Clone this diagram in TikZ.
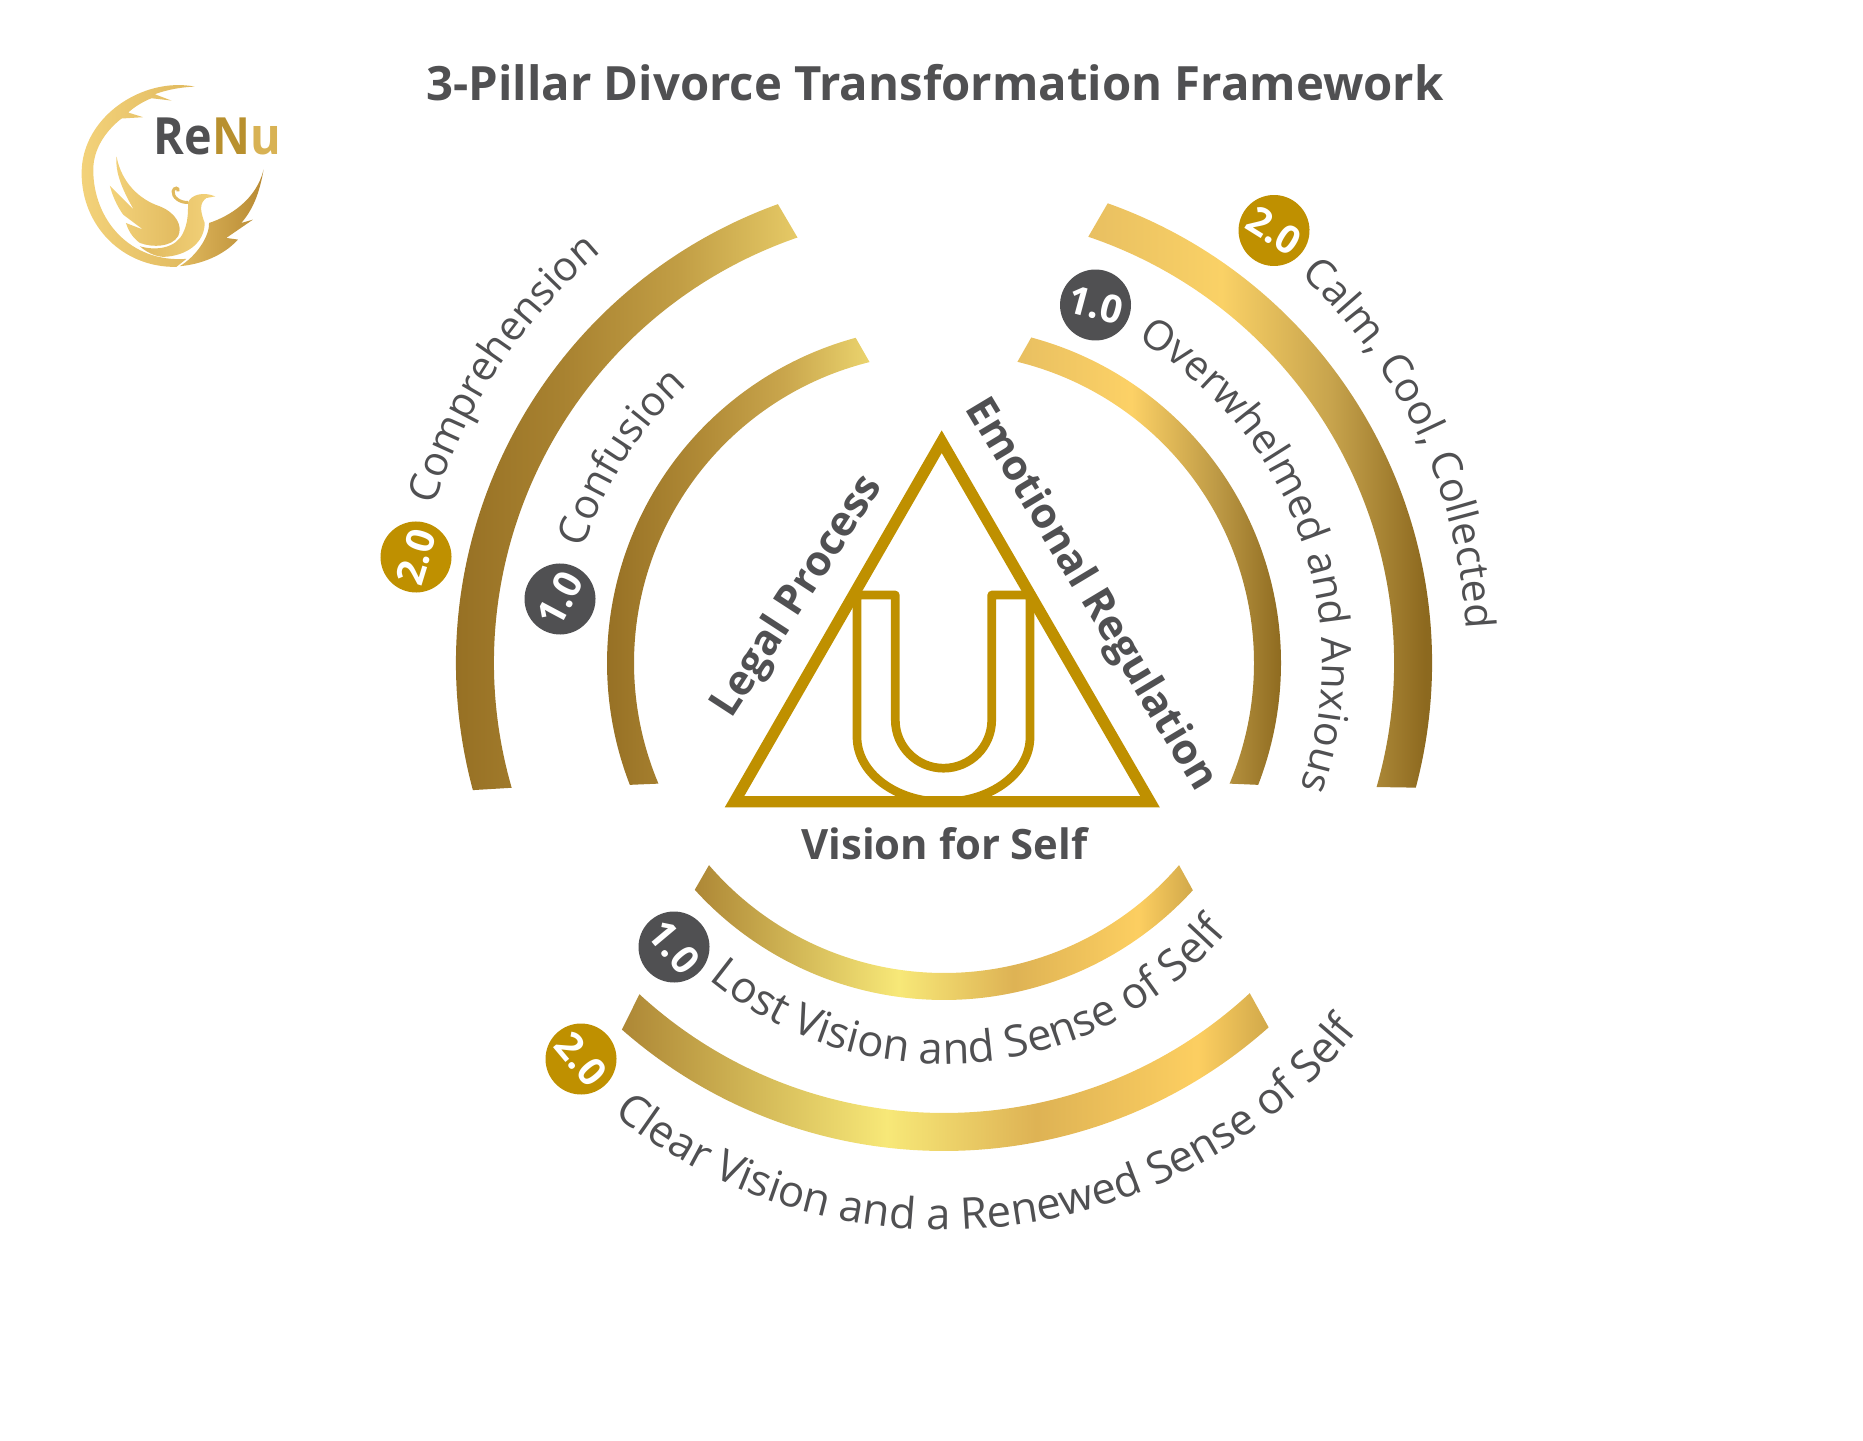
\documentclass[tikz,border=0pt]{standalone}
\usepackage{fontspec}
\setmainfont{Open Sans}
\usetikzlibrary{decorations.text}
\definecolor{inkgray}{HTML}{505052}
\definecolor{pillargold}{HTML}{BF9000}
\definecolor{logopale}{HTML}{F3D27A}
\definecolor{logomid}{HTML}{E0B95E}
\definecolor{logodeep}{HTML}{B88A34}
\pgfdeclarehorizontalshading{goldleftouter}{100bp}{rgb(0bp)=(.56,.41,.12); rgb(25bp)=(.56,.41,.12); rgb(45bp)=(.66,.51,.19); rgb(60bp)=(.76,.62,.27); rgb(75bp)=(.90,.79,.40); rgb(100bp)=(.90,.79,.40)}
\pgfdeclarehorizontalshading{goldleftinner}{100bp}{rgb(0bp)=(.57,.42,.13); rgb(25bp)=(.57,.42,.13); rgb(45bp)=(.69,.54,.21); rgb(60bp)=(.79,.65,.30); rgb(75bp)=(.92,.83,.43); rgb(100bp)=(.92,.83,.43)}
\pgfdeclarehorizontalshading{goldrightouter}{100bp}{rgb(0bp)=(.91,.75,.38); rgb(25bp)=(.91,.75,.38); rgb(42bp)=(.98,.82,.40); rgb(56bp)=(.78,.64,.30); rgb(68bp)=(.55,.41,.12); rgb(100bp)=(.55,.41,.12)}
\pgfdeclarehorizontalshading{goldrightinner}{100bp}{rgb(0bp)=(.91,.75,.38); rgb(25bp)=(.91,.75,.38); rgb(46bp)=(.99,.82,.40); rgb(62bp)=(.74,.60,.27); rgb(75bp)=(.54,.40,.11); rgb(100bp)=(.54,.40,.11)}
\pgfdeclarehorizontalshading{goldbottom}{100bp}{rgb(0bp)=(.68,.53,.21); rgb(25bp)=(.68,.53,.21); rgb(45.5bp)=(.97,.91,.47); rgb(57bp)=(.87,.70,.33); rgb(69.5bp)=(.99,.81,.38); rgb(75bp)=(.82,.66,.29); rgb(100bp)=(.82,.66,.29)}
% one gold band of the wheel
\newcommand{\goldband}[7]{\shade[shading=#1] ([shift={(hub)}]#4:#3) arc[start angle=#4,end angle=#5,radius=#3] -- ([shift={(hub)}]#6:#2) arc[start angle=#6,end angle=#7,radius=#2] -- cycle;}
% text that follows a band
\newcommand{\bandlabel}[6]{\path[decorate,decoration={text along path,text color=inkgray,text align=center,text={|#6|#5}}] ([shift={(#1)}]#2:#4) arc[start angle=#2,end angle=#3,radius=#4];}
\newcommand{\arcfont}{\fontsize{11.7}{14}\selectfont}
\newcommand{\lowfont}{\fontsize{12.4}{14}\selectfont}
\tikzset{
    badgeone/.style={circle,fill=inkgray,text=white,minimum size=.71cm,inner sep=0pt,font=\bfseries\fontsize{11}{13}\selectfont},
    badgetwo/.style={badgeone,fill=pillargold},
    pillarlabel/.style={text=inkgray,font=\bfseries\fontsize{11.9}{14}\selectfont}
}
\begin{document}
\begin{tikzpicture}
    \useasboundingbox (0,0) rectangle (18.63,14.40);
    \coordinate (hub) at (9.44,7.77);
    \coordinate (comphub) at (9.40,7.82);
    \coordinate (calmhub) at (9.49,7.85);
    \coordinate (overhub) at (9.46,7.77);
    \coordinate (losthub) at (9.44,7.46);
    \coordinate (clearhub) at (9.44,7.40);
    \node[text=inkgray,font=\bfseries\fontsize{13.45}{16}\selectfont] (title) at (9.35,13.57) {3-Pillar Divorce Transformation Framework};
    % logo
    \begin{scope}[shift={(.60,13.80)},x=.003333cm,y=-.003333cm]
        \shade[left color=logopale,right color=logomid] (405,80) .. controls (250,50) and (65,170) .. (65,340) .. controls (65,500) and (190,625) .. (350,622) -- (380,598) .. controls (210,610) and (100,480) .. (100,330) .. controls (100,270) and (135,215) .. (185,176) -- (250,172) -- (205,158) .. controls (225,140) and (250,125) .. (275,115) -- (335,122) -- (285,103) .. controls (320,90) and (360,82) .. cycle;
        \shade[left color=logopale,right color=logomid] (170,290) .. controls (185,370) and (240,420) .. (300,440) .. controls (350,460) and (370,500) .. (355,530) .. controls (335,562) and (280,565) .. (240,550) .. controls (215,532) and (205,510) .. (198,490) -- (250,510) -- (190,465) .. controls (172,440) and (158,410) .. (150,378) -- (222,450) .. controls (190,395) and (165,340) .. cycle;
        \shade[left color=logomid,right color=logopale] (385,428) .. controls (395,405) and (430,395) .. (467,410) -- (440,415) .. controls (420,430) and (420,450) .. (435,490) .. controls (435,550) and (380,590) .. (310,592) .. controls (285,590) and (260,578) .. (240,560) .. controls (290,575) and (350,565) .. (370,520) .. controls (385,490) and (385,460) .. cycle;
        \draw[logomid,line width=.03cm] (385,428) .. controls (360,430) and (338,412) .. (340,395) .. controls (342,382) and (358,382) .. (355,395);
        \shade[left color=logomid,right color=logodeep] (612,330) .. controls (600,400) and (580,450) .. (545,490) -- (580,480) -- (500,535) -- (535,540) .. controls (490,590) and (420,615) .. (360,620) .. controls (410,590) and (450,530) .. (448,490) .. controls (510,470) and (590,420) .. cycle;
        \node[anchor=base west,inner sep=0pt,xscale=.91,text=inkgray,font=\bfseries\fontsize{14.6}{17}\selectfont] (brand) at (280,285) {Re\textcolor[HTML]{B8902E}{N}\textcolor[HTML]{D8B254}{u}};
    \end{scope}
    % bands
    \goldband{goldleftouter}{4.50}{4.88}{195.1}{109.9}{109}{196.1}
    \goldband{goldleftinner}{3.10}{3.37}{201.2}{105.2}{103.9}{202.9}
    \goldband{goldrightouter}{4.50}{4.88}{70.4}{-14.8}{-16}{71.3}
    \goldband{goldrightinner}{3.10}{3.37}{75}{-21.2}{-22.9}{76.3}
    \goldband{goldbottom}{3.10}{3.37}{222.3}{317.6}{319.3}{220.7}
    \goldband{goldbottom}{4.50}{4.88}{228.7}{311.7}{312.8}{227.4}
    % band texts
    \bandlabel{comphub}{163}{130}{5.28}{Comprehension}{\arcfont}
    \bandlabel{hub}{161.5}{133.5}{3.78}{Confusion}{\arcfont}
    \bandlabel{calmhub}{46.5}{3.5}{5.18}{Calm, Cool, Collected}{\arcfont}
    \bandlabel{overhub}{59}{-19}{3.76}{Overwhelmed and Anxious}{\arcfont}
    \bandlabel{losthub}{229.7}{320.7}{3.70}{Lost Vision and Sense of Self}{\lowfont}
    \bandlabel{clearhub}{231.4}{321.4}{5.30}{Clear Vision and a Renewed Sense of Self}{\lowfont}
    % badges
    \node[badgetwo,rotate=73] (compbadge) at (4.16,8.83) {2.0};
    \node[badgeone,rotate=62] (confbadge) at (5.60,8.41) {1.0};
    \node[badgeone,rotate=-15] (overbadge) at (10.955,11.35) {1.0};
    \node[badgetwo,rotate=-32] (calmbadge) at (12.74,12.095) {2.0};
    \node[badgeone,rotate=-50] (lostbadge) at (6.74,4.93) {1.0};
    \node[badgetwo,rotate=-50] (clearbadge) at (5.81,3.81) {2.0};
    % triangle and U
    \draw[pillargold,line width=.113cm] (7.345,6.383) -- (11.50,6.383) -- (9.417,9.983) -- cycle;
    \draw[pillargold,line width=.087cm,line join=round] (8.57,8.45) -- (8.953,8.45) -- (8.953,7.20) arc[start angle=180,end angle=360,radius=.482] -- (9.917,8.45) -- (10.30,8.45) -- (10.30,7.03) arc[start angle=0,end angle=-180,x radius=.865,y radius=.65] -- cycle;
    \node[pillarlabel,rotate=57] (legal) at (7.98,8.43) {Legal Process};
    \node[pillarlabel,rotate=-59] (emotion) at (10.90,8.45) {Emotional Regulation};
    \node[pillarlabel] (vision) at (9.445,5.965) {Vision for Self};
\end{tikzpicture}
\end{document}
